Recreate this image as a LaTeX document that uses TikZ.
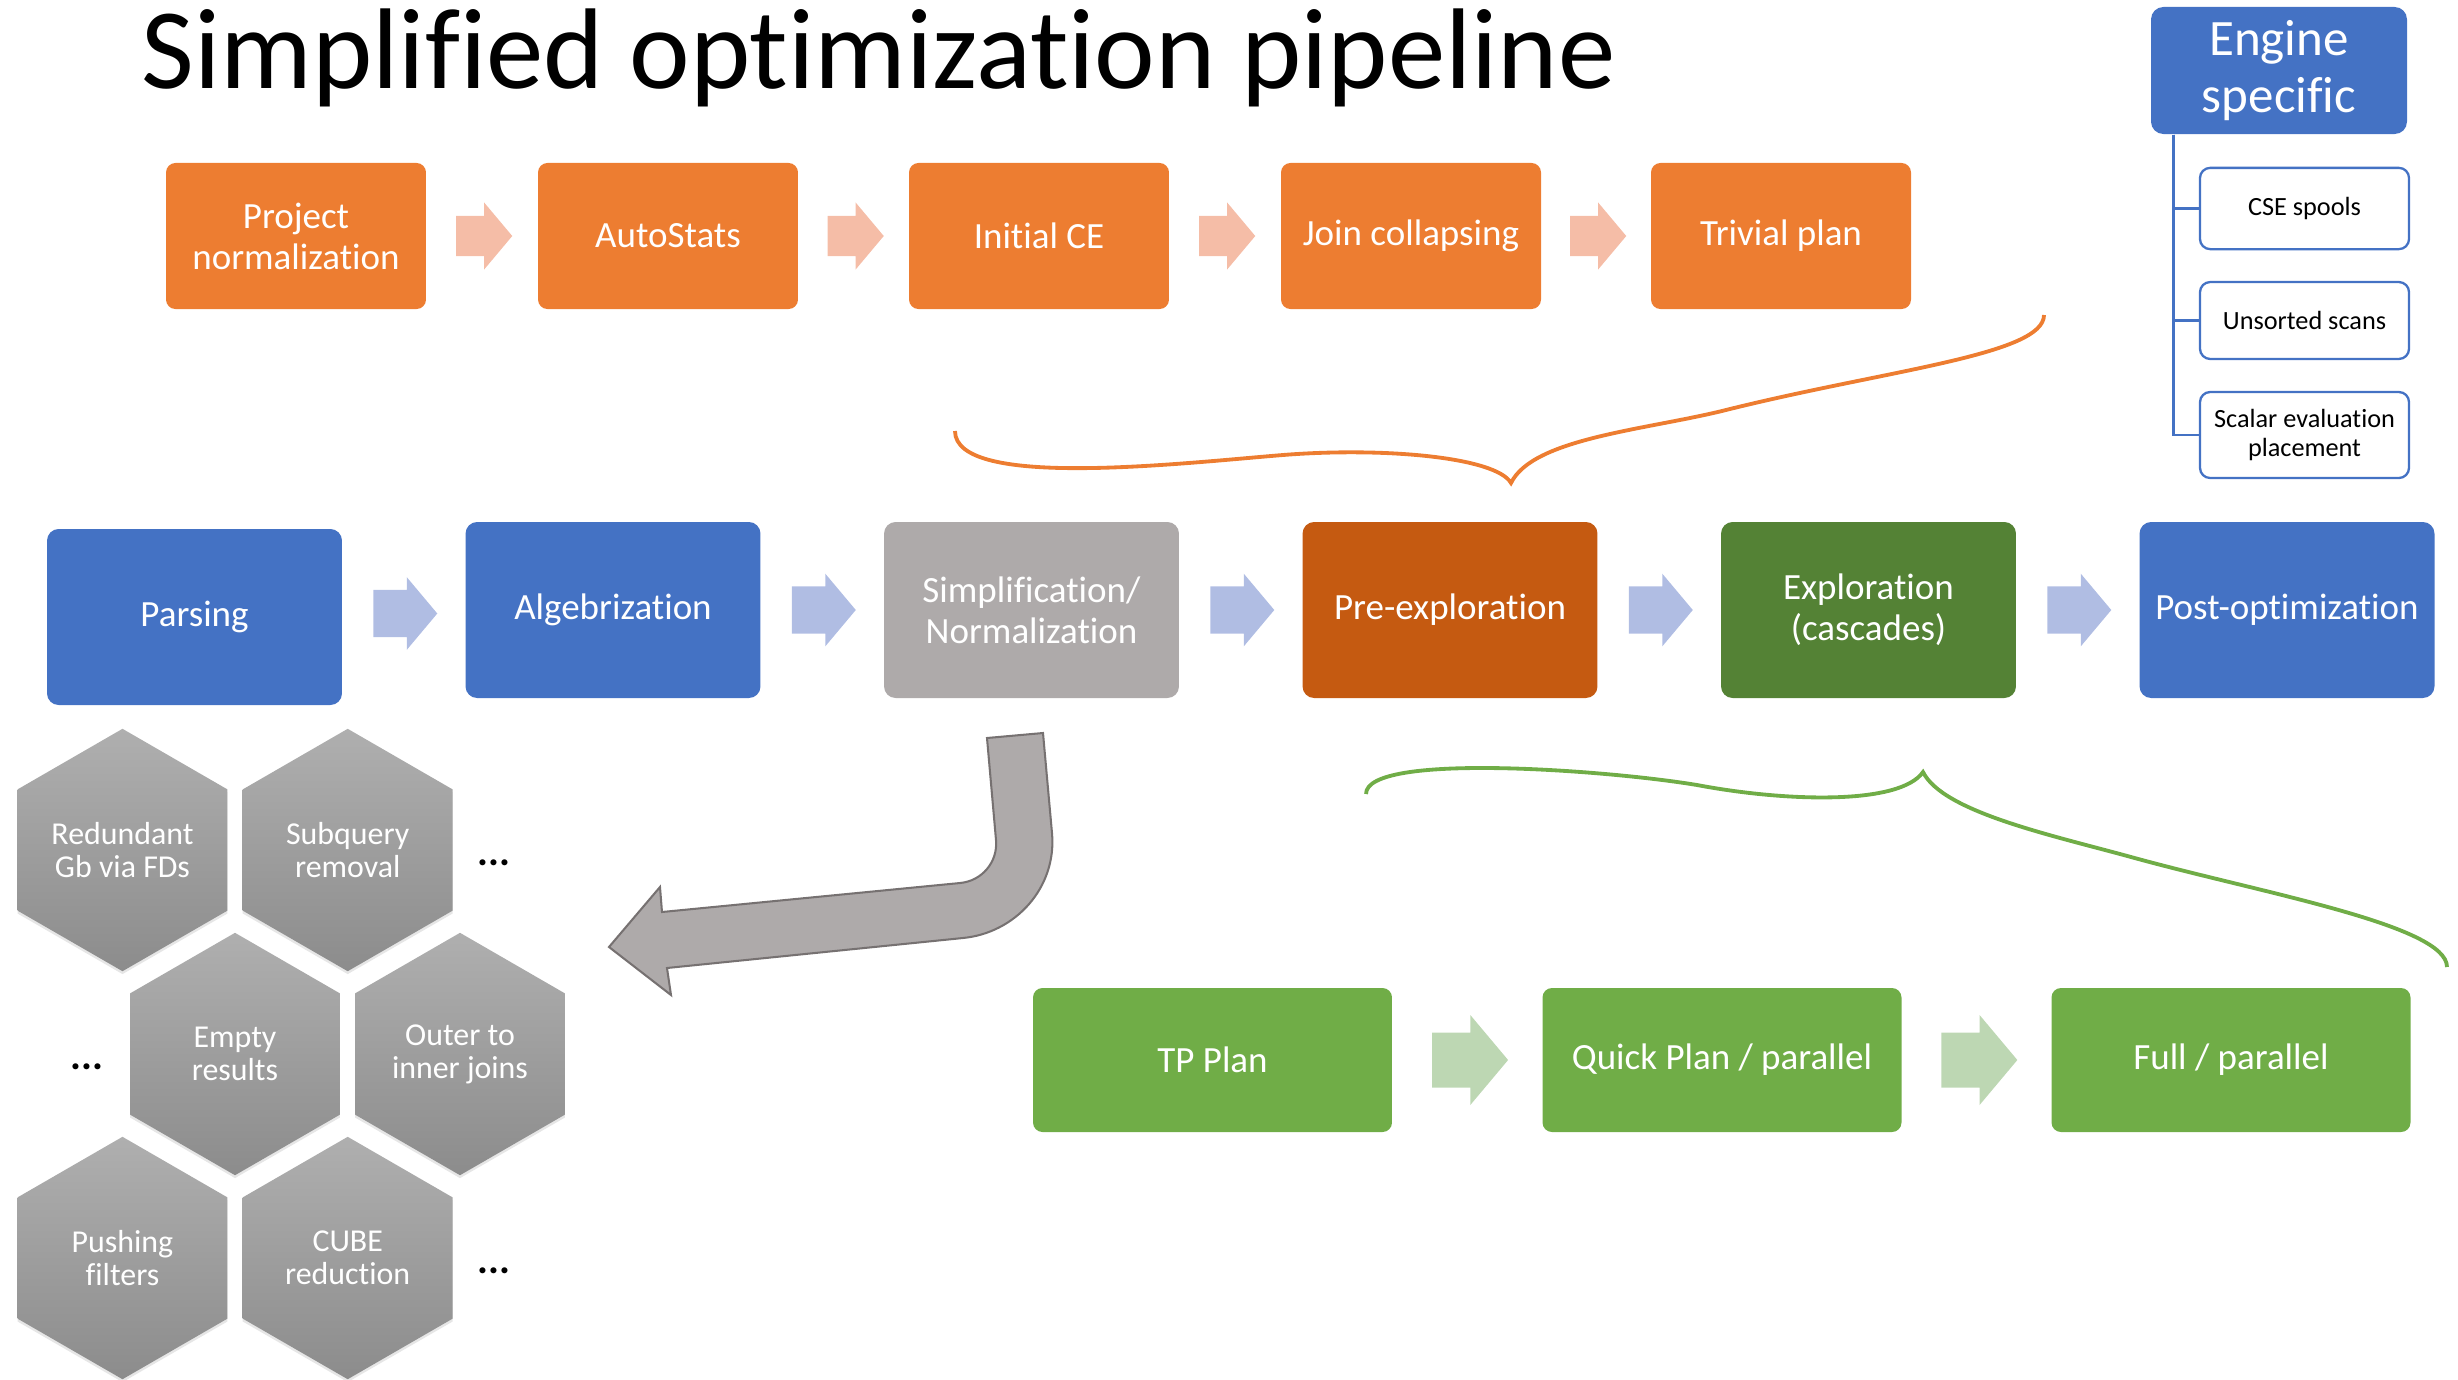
\documentclass[tikz,border=0pt]{standalone}
\usepackage{fontspec}
\setmainfont{Carlito}[Ligatures=NoCommon]
\usetikzlibrary{positioning}
\usetikzlibrary{calc}
\usetikzlibrary{shapes.geometric}
\usetikzlibrary{shapes.arrows}
\usetikzlibrary{shadows}

\definecolor{PipeOrange}{HTML}{ED7D31}
\definecolor{PipeBlue}{HTML}{4472C4}
\definecolor{PipeGray}{HTML}{AEAAAA}
\definecolor{PipeRust}{HTML}{C55A11}
\definecolor{PipeMoss}{HTML}{548235}
\definecolor{PipeGreen}{HTML}{70AD47}
\definecolor{ArrowOrange}{HTML}{F5BDA7}
\definecolor{ArrowBlue}{HTML}{B0BDE3}
\definecolor{ArrowGreen}{HTML}{BDD7B3}
\definecolor{HexTop}{HTML}{AFAFAF}
\definecolor{HexBottom}{HTML}{8C8C8C}
\definecolor{BentLine}{HTML}{767171}

\begin{document}
\begin{tikzpicture}
          [
          x=0.13778mm, y=-0.13778mm,
          Box/.style={rectangle, rounded corners=1.3mm, text=white, align=center, inner sep=0pt, font=\fontsize{14.5}{16}\selectfont},
          TopBox/.style={Box, fill=PipeOrange, minimum width=35.82mm, minimum height=20.12mm},
          MidBox/.style={Box, rounded corners=1.6mm, minimum width=40.64mm, minimum height=24.25mm},
          LowBox/.style={Box, fill=PipeGreen, minimum width=49.46mm, minimum height=19.84mm},
          SubBox/.style={rectangle, rounded corners=1.4mm, draw=PipeBlue, line width=0.9pt, fill=white, minimum width=28.8mm, minimum height=11.2mm, align=center, font=\fontsize{10.3}{11.2}\selectfont},
          Hex/.style={regular polygon, regular polygon sides=6, shape border rotate=30, minimum size=33.4mm, inner sep=0pt, top color=HexTop, bottom color=HexBottom, text=white, align=center, font=\fontsize{12.5}{13}\selectfont, drop shadow={opacity=0.2, shadow xshift=0pt, shadow yshift=-0.4mm}},
          Dots/.style={inner sep=0pt, font=\fontsize{16}{16}\selectfont\bfseries},
          TopArrow/.style={single arrow, fill=ArrowOrange, minimum height=7.72mm, inner xsep=0pt, inner ysep=2.69mm, single arrow head extend=1.86mm, single arrow tip angle=100, xshift=-0.85mm},
          MidArrow/.style={single arrow, fill=ArrowBlue, minimum height=8.82mm, inner xsep=0pt, inner ysep=3.17mm, single arrow head extend=1.76mm, single arrow tip angle=100, xshift=-1.15mm},
          LowArrow/.style={single arrow, fill=ArrowGreen, minimum height=10.47mm, inner xsep=0pt, inner ysep=3.72mm, single arrow head extend=2.41mm, single arrow tip angle=100, xshift=-1.2mm},
          Brace/.style={line width=1.5pt},
          Tree/.style={draw=PipeBlue, line width=0.9pt},
          ]
          \useasboundingbox (0,0) rectangle (2458,1379);

          % Title
          \node[anchor=base west, inner sep=0pt, font=\fontsize{45}{50}\selectfont] (Title) at (141,88) {Simplified optimization pipeline};

          % Simplification steps
          \node[TopBox] (Proj) at (296,236) {Project\\normalization};
          \node[TopBox] (AutoStats) at (668,236) {AutoStats};
          \node[TopBox] (InitCE) at (1039,236) {Initial CE};
          \node[TopBox] (JoinColl) at (1411,236) {Join collapsing};
          \node[TopBox] (Trivial) at (1781,236) {Trivial plan};

          % Main pipeline
          \node[MidBox, fill=PipeBlue] (Parsing) at (194.5,617) {Parsing};
          \node[MidBox, fill=PipeBlue] (Algeb) at (613,610) {Algebrization};
          \node[MidBox, fill=PipeGray] (Simpl) at (1031.5,610) {Simplification/\\Normalization};
          \node[MidBox, fill=PipeRust] (PreExp) at (1450,610) {Pre-exploration};
          \node[MidBox, fill=PipeMoss] (Explo) at (1868.5,610) {Exploration\\(cascades)};
          \node[MidBox, fill=PipeBlue] (PostOpt) at (2287,610) {Post-optimization};

          % Exploration stages
          \node[LowBox] (TP) at (1212.5,1060) {TP Plan};
          \node[LowBox] (Quick) at (1722,1060) {Quick Plan / parallel};
          \node[LowBox] (Full) at (2231,1060) {Full / parallel};

          % Engine specific
          \node[Box, fill=PipeBlue, rounded corners=1.7mm, minimum width=35.27mm, minimum height=17.5mm, font=\fontsize{20}{22}\selectfont] (Engine) at (2279,70.5) {Engine\\specific};
          \node[SubBox] (Cse) at (2304.5,208.5) {CSE spools};
          \node[SubBox, minimum height=10.6mm] (Unsorted) at (2304.5,320.5) {Unsorted scans};
          \node[SubBox, minimum height=11.85mm] (Scalar) at (2304.5,435) {Scalar evaluation\\placement};

          % Rewrites
          \node[Hex] (Redund) at (122.5,850) {Redundant\\Gb via FDs};
          \node[Hex] (Subq) at (347.7,850) {Subquery\\removal};
          \node[Hex] (Empty) at (235,1054) {Empty\\results};
          \node[Hex] (OuterInner) at (460,1054) {Outer to\\inner joins};
          \node[Hex] (Pushing) at (122.5,1258) {Pushing\\filters};
          \node[Hex] (Cube) at (347.7,1258) {CUBE\\reduction};
          \node[Dots] (DotsA) at (494,863) {...};
          \node[Dots] (DotsB) at (87,1067) {...};
          \node[Dots] (DotsC) at (494,1271) {...};

          % Arrows
          \node[TopArrow] (ta1) at ($(Proj.east)!0.5!(AutoStats.west)$) {};
          \node[TopArrow] (ta2) at ($(AutoStats.east)!0.5!(InitCE.west)$) {};
          \node[TopArrow] (ta3) at ($(InitCE.east)!0.5!(JoinColl.west)$) {};
          \node[TopArrow] (ta4) at ($(JoinColl.east)!0.5!(Trivial.west)$) {};
          \node[MidArrow] (ma1) at ($(Parsing.east)!0.5!(Algeb.west)$) {};
          \node[MidArrow] (ma2) at ($(Algeb.east)!0.5!(Simpl.west)$) {};
          \node[MidArrow] (ma3) at ($(Simpl.east)!0.5!(PreExp.west)$) {};
          \node[MidArrow] (ma4) at ($(PreExp.east)!0.5!(Explo.west)$) {};
          \node[MidArrow] (ma5) at ($(Explo.east)!0.5!(PostOpt.west)$) {};
          \node[LowArrow] (la1) at ($(TP.east)!0.5!(Quick.west)$) {};
          \node[LowArrow] (la2) at ($(Quick.east)!0.5!(Full.west)$) {};

          % Tree lines
          \draw[Tree] ([xshift=3.17mm]Engine.south west) |- (Cse.west);
          \draw[Tree] ([xshift=3.17mm]Engine.south west) |- (Unsorted.west);
          \draw[Tree] ([xshift=3.17mm]Engine.south west) |- (Scalar.west);

          % Braces
          \draw[Brace, PipeOrange] (955,431) .. controls (955,490) and (1183,463) .. (1283,455)
                .. controls (1383,447) and (1496,457) .. (1511,483)
                .. controls (1533,438) and (1646,430) .. (1726,410)
                .. controls (1886,370) and (2044,355) .. (2044,315);
          \draw[Brace, PipeGreen] (1366,794) .. controls (1366,752) and (1607,770) .. (1697,785)
                .. controls (1787,802) and (1900,805) .. (1923,772)
                .. controls (1943,812) and (2051,835) .. (2131,857)
                .. controls (2261,893) and (2447,925) .. (2447,967);

          % Bent arrow
          \draw[fill=PipeGray, draw=BentLine, line width=0.8pt, line join=miter]
                (987,738) -- (1043,733) -- (1052,833)
                .. controls (1057,888) and (1015,933) .. (963,938)
                -- (667,968) -- (671,995) -- (609,947) -- (660,887) -- (662,912) -- (960,883)
                .. controls (982,881) and (998,862) .. (996,840) -- cycle;

        \end{tikzpicture}
\end{document}
